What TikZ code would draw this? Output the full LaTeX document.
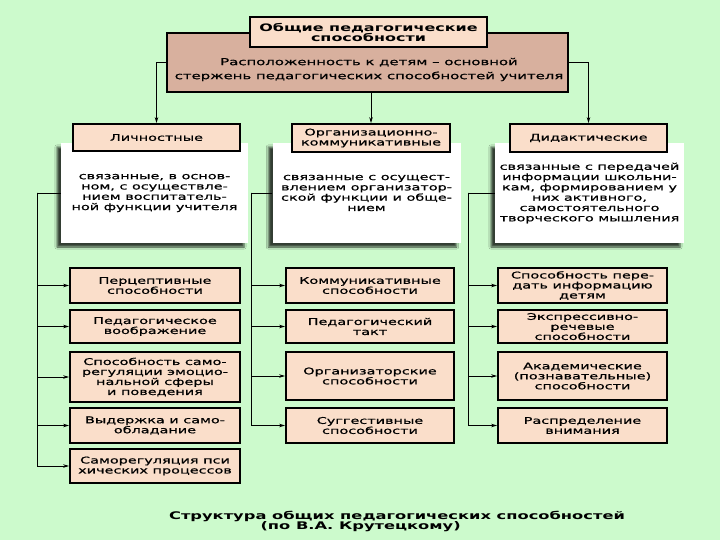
\documentclass[tikz,border=0pt]{standalone}
\usepackage{fontspec}
\setmainfont{DejaVu Sans}[FakeStretch=1.55]
\newfontfamily\bxfont{DejaVu Sans}[FakeStretch=1.55,FakeBold=0.8]
\usetikzlibrary{arrows.meta,shadows,shadows.blur}
\definecolor{bg}{RGB}{204,250,204}
\definecolor{peach}{RGB}{250,222,202}
\definecolor{rose}{RGB}{216,176,158}
\tikzset{
  box/.style={draw=black,line width=1.8pt,fill=peach,align=center,inner sep=0pt,
    font=\bxfont\fontsize{9.3}{10}\selectfont},
  hdr/.style={box},
  desc/.style={fill=white,align=center,inner sep=0pt,
    font=\bxfont\fontsize{9.3}{10.3}\selectfont,
    blur shadow={shadow xshift=-4pt,shadow yshift=-4pt,shadow blur steps=4,shadow opacity=75}},
  conn/.style={draw=black,line width=0.8pt},
  arr/.style={conn,-{Stealth[length=6pt,width=3.5pt]}}
}
\newcommand{\bx}[5]{% name, x1, y1, x2, y2
  \node[box,minimum width=#4-#2,minimum height=#5-#3] (#1) at ({(#2+#4)/2},{(#3+#5)/2})}
\begin{document}
\begin{tikzpicture}[x=1pt,y=-1pt]
\fill[bg] (0,0) rectangle (720,540);
\useasboundingbox (0,0) rectangle (720,540);

% top
\node[box,fill=rose,minimum width=401,minimum height=59] (big) at (367.5,62.5) {};
\node[font=\bxfont\fontsize{9.6}{14}\selectfont,align=center] (bigt) at (369,69.5)
  {Расположенность к детям – основной\\стержень педагогических способностей учителя};
\node[box,minimum width=237,minimum height=30,font=\bfseries\fontsize{10.3}{10}\selectfont] (title) at (368.5,32)
  {Общие педагогические\\способности};

% description boxes
\node[desc,minimum width=187,minimum height=100] (d1) at (154.5,193)
  {\raisebox{-2pt}{\parbox{185pt}{\centering связанные, в основ-\\ном, с осуществле-\\нием воспитатель-\\ной функции учителя}}};
\node[desc,minimum width=188,minimum height=100] (d2) at (366.5,193)
  {\raisebox{-4pt}{\parbox{185pt}{\centering связанные с осущест-\\влением организатор-\\ской функции и обще-\\нием}}};
\node[desc,minimum width=189,minimum height=100] (d3) at (589.5,193)
  {связанные с передачей\\информации школьни-\\кам, формированием у\\них активного,\\самостоятельного\\творческого мышления};

% headers
\node[hdr,minimum width=167,minimum height=27] (h1) at (156.5,137.5) {Личностные};
\node[hdr,minimum width=158,minimum height=28] (h2) at (371,138) {Организационно-\\коммуникативные};
\node[hdr,minimum width=157,minimum height=28] (h3) at (588.5,138) {Дидактические};

% top connectors
\draw[arr] (big.west) -| (h1.north);
\draw[arr] (big.south -| h2.north) -- (h2.north);
\draw[arr] (big.east) -| (h3.north);

% left column
\bx{a1}{70}{268}{240}{303}{Перцептивные\\способности};
\bx{a2}{70}{310}{240}{343}{Педагогическое\\воображение};
\bx{a3}{70}{352}{240}{402}{Способность само-\\регуляции эмоцио-\\нальной сферы\\и поведения};
\bx{a4}{70}{408}{240}{443}{Выдержка и само-\\обладание};
\bx{a5}{70}{449}{240}{483}{Саморегуляция пси\\хических процессов};
% middle column
\bx{b1}{286}{268}{454}{303}{Коммуникативные\\способности};
\bx{b2}{286}{310}{454}{343}{Педагогический\\такт};
\bx{b3}{286}{352}{454}{400}{Организаторские\\способности};
\bx{b4}{286}{408}{454}{443}{Суггестивные\\способности};
% right column
\bx{c1}{498}{268}{667}{303}{Способность пере-\\дать информацию\\детям};
\bx{c2}{498}{310}{667}{343}{Экспрессивно-\\речевые\\способности};
\bx{c3}{498}{352}{667}{400}{Академические\\(познавательные)\\способности};
\bx{c4}{498}{408}{667}{443}{Распределение\\внимания};

\coordinate (L) at (37,193);
\coordinate (M) at (251,193);
\coordinate (R) at (468,193);
\draw[conn] (d1.west) -- (L);
\draw[conn] (d2.west) -- (M);
\draw[conn] (d3.west) -- (R);
\foreach \n in {a1,a2,a3,a4,a5} \draw[arr] (L) |- (\n.west);
\foreach \n in {b1,b2,b3,b4} \draw[arr] (M) |- (\n.west);
\foreach \n in {c1,c2,c3,c4} \draw[arr] (R) |- (\n.west);

% caption
\node[font=\bfseries\fontsize{10.5}{10}\selectfont] (cap1) at (397,516) {Структура общих педагогических способностей};
\node[font=\bfseries\fontsize{10.5}{10}\selectfont,anchor=west] (cap2) at (257,526.5) {(по В.А. Крутецкому)};
\end{tikzpicture}
\end{document}
